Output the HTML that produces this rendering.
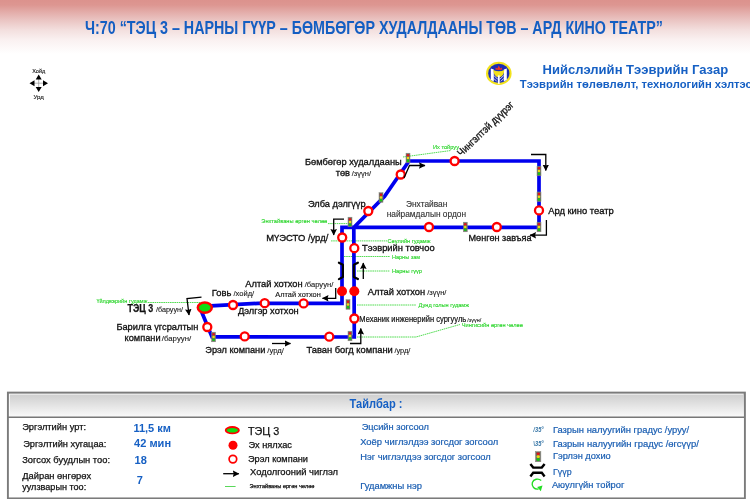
<!DOCTYPE html>
<html><head><meta charset="utf-8">
<style>
html,body{margin:0;padding:0;background:#fff;}
#wrap{position:relative;width:750px;height:499px;overflow:hidden;background:#fff;}
#hdr{position:absolute;left:0;top:0;width:750px;height:56px;background:linear-gradient(to bottom,#dc928d 0px,#dd9691 5px,#e3aca9 12px,#eac4c2 20px,#f3dfde 30px,#faf1f1 40px,#ffffff 54px);}
svg{position:absolute;left:0;top:0;will-change:transform;}
text{font-family:"Liberation Sans",sans-serif;}
</style></head>
<body><div id="wrap"><div id="hdr"></div>
<svg width="750" height="499" viewBox="0 0 750 499">
<defs>
 <g id="sig"><rect x="-2" y="-4.8" width="4" height="9.6" fill="#6a6a6a" stroke="#8a8a7a" stroke-width="0.5"/><circle cx="0" cy="-2.7" r="1.3" fill="#e01818"/><circle cx="0" cy="0" r="1.3" fill="#eedd10"/><circle cx="0" cy="2.7" r="1.3" fill="#10c810"/></g>
 <marker id="ah" markerWidth="8" markerHeight="8" refX="6" refY="3.3" orient="auto" markerUnits="userSpaceOnUse"><path d="M0,0 L6.5,3.3 L0,6.6 L0.9,3.3 z" fill="#000"/></marker>
</defs>

<!-- title -->
<text x="85" y="33.6" font-size="17.6" font-weight="bold" fill="#145ec2" textLength="578" lengthAdjust="spacingAndGlyphs">Ч:70 “ТЭЦ 3 – НАРНЫ ГҮҮР – БӨМБӨГӨР ХУДАЛДААНЫ ТӨВ – АРД КИНО ТЕАТР”</text>

<!-- compass -->
<text x="32.2" y="72.8" font-size="6" fill="#222" stroke="#222" stroke-width="0.15" textLength="13" lengthAdjust="spacingAndGlyphs">Хойд</text>
<text x="33.5" y="99.2" font-size="6" fill="#222" stroke="#222" stroke-width="0.15" textLength="10.4" lengthAdjust="spacingAndGlyphs">Урд</text>
<g stroke="#888" stroke-width="0.6"><line x1="33" y1="83.2" x2="44" y2="83.2"/><line x1="38.7" y1="78" x2="38.7" y2="89"/></g>
<path d="M38.7,74.5 L41.7,79.5 L35.7,79.5 Z M38.7,92 L41.7,87 L35.7,87 Z M29.5,83.2 L34.5,80.2 L34.5,86.2 Z M48,83.2 L43,80.2 L43,86.2 Z" fill="#000"/>

<!-- logo -->
<g transform="translate(498.8,73.4)">
 <ellipse rx="12.8" ry="11.6" fill="#f2e21c"/>
 <ellipse rx="10.6" ry="9.6" fill="#1a2db5"/>
 <path d="M-8,-5 L-5,-4 L-5,8 L-8,6.5 Z M8,-5 L5,-4 L5,8 L8,6.5 Z" fill="#fff"/>
 <path d="M-5.5,-3.5 Q0,-1 5.5,-3.5 Q5,3.5 0,3.8 Q-5,3.5 -5.5,-3.5 Z" fill="#f2e21c"/>
 <path d="M-0.9,2 L0.9,2 L0.9,10.5 L-0.9,10.5 Z" fill="#fff"/>
 <path d="M-5,2 L-1,6 M5,2 L1,6 M-5,5 L-2,8 M5,5 L2,8" stroke="#fff" stroke-width="0.8"/>
 <path d="M-3.5,-3.8 L-3,-6 L-1.5,-5 L0,-8 L1.5,-5 L3,-6 L3.5,-3.8 Q0,-3 -3.5,-3.8 Z" fill="#ee3322"/>
</g>
<text x="542.5" y="73.6" font-size="12.5" font-weight="bold" fill="#1660c4" textLength="185.6" lengthAdjust="spacingAndGlyphs">Нийслэлийн Тээврийн Газар</text>
<text x="519.8" y="87.6" font-size="11.5" font-weight="bold" fill="#1660c4" textLength="232" lengthAdjust="spacingAndGlyphs">Тээврийн төлөвлөлт, технологийн хэлтэс</text>

<!-- green street lines -->
<g stroke="#55dd55" stroke-width="1" stroke-dasharray="1.6,0.6" fill="none">
 <line x1="148" y1="302.5" x2="205" y2="302.5"/>
 <line x1="328" y1="223.6" x2="348" y2="223.6"/>
 <line x1="403" y1="157" x2="451" y2="150.5"/>
 <line x1="331" y1="240.9" x2="387" y2="240.9"/>
 <line x1="344" y1="256.5" x2="390" y2="256.5"/>
 <line x1="357" y1="271" x2="390" y2="271"/>
 <line x1="357" y1="305" x2="416" y2="305"/>
 <polyline points="357,337 416,337 460,324.5"/>
</g>
<g fill="#22d322" font-size="6" stroke="#22d322" stroke-width="0.1">
 <text x="96.4" y="302.9" textLength="51" lengthAdjust="spacingAndGlyphs">Үйлдвэрийн гудамж</text>
 <text x="261.3" y="223.3" textLength="66" lengthAdjust="spacingAndGlyphs">Энхтайваны өргөн чөлөө</text>
 <text x="433" y="149" textLength="26" lengthAdjust="spacingAndGlyphs">Их тойруу</text>
 <text x="387.5" y="242.8" textLength="43" lengthAdjust="spacingAndGlyphs">Сөүлийн гудамж</text>
 <text x="392" y="258.5" textLength="28" lengthAdjust="spacingAndGlyphs">Нарны зам</text>
 <text x="392" y="273" textLength="30" lengthAdjust="spacingAndGlyphs">Нарны гүүр</text>
 <text x="418.6" y="306.5" textLength="50.4" lengthAdjust="spacingAndGlyphs">Дунд голын гудамж</text>
 <text x="461.8" y="327" textLength="61" lengthAdjust="spacingAndGlyphs">Чингисийн өргөн чөлөө</text>
</g>

<!-- route -->
<g stroke="#0000ee" stroke-width="3.7" fill="none" stroke-linejoin="miter">
 <polyline points="206,306.2 258,303.3 342,303.3 342,227.3 539,227.3 539,161 409,161 384.6,196.4 353.8,227.5 354.3,337 212,336.9 201.5,311.5"/>
</g>

<!-- bridges -->
<g stroke="#000" stroke-width="2.2" fill="none" stroke-linejoin="round" stroke-linecap="round">
 <path d="M338.9,262.7 L342.9,264.8 L342.9,277 L338.9,279.1"/>
 <path d="M357.9,262.7 L353.8,264.8 L353.8,277 L357.9,279.1"/>
</g>

<!-- signals -->
<use href="#sig" x="408" y="158"/>
<use href="#sig" x="381" y="197.5"/>
<use href="#sig" x="350" y="222"/>
<use href="#sig" x="465.3" y="227"/>
<use href="#sig" x="539" y="171"/>
<use href="#sig" x="539" y="196.8"/>
<use href="#sig" x="539" y="227"/>
<use href="#sig" x="348" y="304.5"/>
<use href="#sig" x="350" y="336"/>
<use href="#sig" x="213.6" y="337"/>

<!-- stops -->
<g fill="#fff" stroke="#ff0000" stroke-width="2.3">
 <circle cx="454.6" cy="161" r="4"/>
 <circle cx="400.7" cy="174.5" r="4"/>
 <circle cx="368.3" cy="211" r="4"/>
 <circle cx="429" cy="227" r="4"/>
 <circle cx="496.8" cy="227" r="4"/>
 <circle cx="539" cy="210.4" r="4"/>
 <circle cx="342.2" cy="237.5" r="4"/>
 <circle cx="354.3" cy="248.2" r="4"/>
 <circle cx="354.3" cy="318.5" r="4"/>
 <circle cx="233" cy="305" r="4"/>
 <circle cx="264.7" cy="303.2" r="4"/>
 <circle cx="303.6" cy="303.4" r="4"/>
 <circle cx="207.3" cy="327" r="4"/>
 <circle cx="244.7" cy="336.4" r="4"/>
 <circle cx="329.3" cy="336.7" r="4"/>
</g>
<g fill="#ff0000"><circle cx="342" cy="291.3" r="5"/><circle cx="354.3" cy="291.3" r="5"/></g>
<ellipse cx="204.8" cy="307.6" rx="7" ry="5.1" fill="#10dd10" stroke="#ff0000" stroke-width="2.5"/>

<!-- direction arrows -->
<g stroke="#000" stroke-width="1.3" fill="none" marker-end="url(#ah)">
 <polyline points="531,154.5 545.8,154.5 545.8,170.5"/>
 <polyline points="546.4,220 546.4,235.2 530,235.2"/>
 <polyline points="404,178 409.5,165.5 425,165.5"/>
 <polyline points="344,219.2 333.7,219.2 333.7,235"/>
 <line x1="363.3" y1="279" x2="363.3" y2="263"/>
 <polyline points="335.7,288 335.7,298.3 322.5,298.3"/>
 <polyline points="350,343.5 360.8,343.5 360.8,328.5"/>
 <line x1="272" y1="343.5" x2="290.5" y2="343.5"/>
 <polyline points="201.5,297.2 187,298.6 189,315"/>
</g>

<!-- labels -->
<g fill="#111" font-size="9.6" stroke="#111" stroke-width="0.32">
 <text x="304.9" y="165" textLength="96.8" lengthAdjust="spacingAndGlyphs">Бөмбөгөр худалдааны</text>
 <text x="335.7" y="176.2" textLength="14.3" lengthAdjust="spacingAndGlyphs" font-size="9">төв</text>
 <text x="351.7" y="176.3" textLength="19.3" lengthAdjust="spacingAndGlyphs" font-size="7.5" fill="#222" stroke="#222" stroke-width="0.12">/зүүн/</text>
 <text x="308" y="207.2" textLength="57.6" lengthAdjust="spacingAndGlyphs">Элба дэлгүүр</text>
 <text x="406" y="207" textLength="41.3" lengthAdjust="spacingAndGlyphs" font-size="9.2" fill="#333" stroke="#333" stroke-width="0.15">Энхтайван</text>
 <text x="386.7" y="217" textLength="79.3" lengthAdjust="spacingAndGlyphs" font-size="9.2" fill="#333" stroke="#333" stroke-width="0.15">найрамдалын ордон</text>
 <text x="548.2" y="213.5" textLength="65.6" lengthAdjust="spacingAndGlyphs">Ард кино театр</text>
 <text x="468.5" y="240.5" textLength="63" lengthAdjust="spacingAndGlyphs">Мөнгөн завъяа</text>
 <text x="266.2" y="240.7" textLength="62.1" lengthAdjust="spacingAndGlyphs">МҮЭСТО /урд/</text>
 <text x="362" y="250.9" textLength="72.6" lengthAdjust="spacingAndGlyphs">Тээврийн товчоо</text>
 <text x="245.3" y="286.7" textLength="57.4" lengthAdjust="spacingAndGlyphs">Алтай хотхон</text>
 <text x="304.7" y="286.7" textLength="28.6" lengthAdjust="spacingAndGlyphs" font-size="7.5" fill="#222" stroke="#222" stroke-width="0.12">/баруун/</text>
 <text x="275.3" y="296.7" textLength="45.4" lengthAdjust="spacingAndGlyphs" font-size="8" stroke-width="0.15">Алтай хотхон</text>
 <text x="211.8" y="295.8" textLength="19.6" lengthAdjust="spacingAndGlyphs" font-size="9.5">Говь</text>
 <text x="233.4" y="295.8" textLength="20.8" lengthAdjust="spacingAndGlyphs" font-size="7.5" fill="#222" stroke="#222" stroke-width="0.12">/хойд/</text>
 <text x="238" y="313.6" textLength="60.7" lengthAdjust="spacingAndGlyphs">Дэлгэр хотхон</text>
 <text x="367.8" y="294.8" textLength="57.4" lengthAdjust="spacingAndGlyphs">Алтай хотхон</text>
 <text x="427.2" y="294.8" textLength="19.2" lengthAdjust="spacingAndGlyphs" font-size="7.5" fill="#222" stroke="#222" stroke-width="0.12">/зүүн/</text>
 <text x="359.3" y="321.5" textLength="107" lengthAdjust="spacingAndGlyphs" font-size="8.8" stroke-width="0.2">Механик инженерийн сургууль</text>
 <text x="467.2" y="321.5" textLength="14" lengthAdjust="spacingAndGlyphs" font-size="6" fill="#222" stroke="#222" stroke-width="0.1">/зүүн/</text>
 <text x="127.6" y="311.7" textLength="25.6" lengthAdjust="spacingAndGlyphs" font-weight="bold" font-size="10" stroke-width="0.25">ТЭЦ 3</text>
 <text x="156" y="312" textLength="27" lengthAdjust="spacingAndGlyphs" font-size="7.5" fill="#222" stroke="#222" stroke-width="0.12">/баруун/</text>
 <text x="116.4" y="330" textLength="82" lengthAdjust="spacingAndGlyphs">Барилга үгсралтын</text>
 <text x="124.6" y="340.8" textLength="36" lengthAdjust="spacingAndGlyphs">компани</text>
 <text x="161.8" y="340.8" textLength="29.4" lengthAdjust="spacingAndGlyphs" font-size="7.5" fill="#222" stroke="#222" stroke-width="0.12">/баруун/</text>
 <text x="205.3" y="352.7" textLength="60" lengthAdjust="spacingAndGlyphs">Эрэл компани</text>
 <text x="267.3" y="352.7" textLength="16.7" lengthAdjust="spacingAndGlyphs" font-size="7.5" fill="#222" stroke="#222" stroke-width="0.12">/урд/</text>
 <text x="306.4" y="352.8" textLength="86.4" lengthAdjust="spacingAndGlyphs">Таван богд компани</text>
 <text x="394.4" y="352.8" textLength="16" lengthAdjust="spacingAndGlyphs" font-size="7.5" fill="#222" stroke="#222" stroke-width="0.12">/урд/</text>
 <text transform="translate(461.3,157) rotate(-44)" font-size="10.5" textLength="74" lengthAdjust="spacingAndGlyphs">Чингэлтэй дүүрэг</text>
</g>

<!-- legend box -->
<defs><linearGradient id="lg" x1="0" y1="0" x2="0" y2="1"><stop offset="0" stop-color="#cbcbcb"/><stop offset="1" stop-color="#fbfbfb"/></linearGradient></defs>
<rect x="8" y="392.5" width="736" height="25" fill="url(#lg)"/>
<polyline points="9.3,416.8 9.3,394 743,394" fill="none" stroke="#fff" stroke-width="1"/>
<rect x="7.9" y="392.6" width="737" height="105.8" fill="none" stroke="#7b7b7b" stroke-width="1.9"/>
<line x1="8" y1="417.3" x2="744" y2="417.3" stroke="#777" stroke-width="1.4"/>
<text x="349.6" y="408.3" font-size="12" font-weight="bold" fill="#1660c4" textLength="52.8" lengthAdjust="spacingAndGlyphs">Тайлбар :</text>

<g fill="#111" font-size="9" stroke="#111" stroke-width="0.25">
 <text x="22.2" y="429.5" textLength="63.8" lengthAdjust="spacingAndGlyphs">Эргэлтийн урт:</text>
 <text x="23.2" y="446.5" textLength="83.1" lengthAdjust="spacingAndGlyphs">Эргэлтийн хугацаа:</text>
 <text x="22.2" y="463" textLength="87.8" lengthAdjust="spacingAndGlyphs">Зогсох буудлын тоо:</text>
 <text x="22.2" y="478.5" textLength="69" lengthAdjust="spacingAndGlyphs">Дайран өнгөрөх</text>
 <text x="22.2" y="489.5" textLength="64" lengthAdjust="spacingAndGlyphs">уулзварын тоо:</text>
</g>
<g fill="#1660c4" font-size="11" font-weight="bold">
 <text x="133.4" y="431.5" textLength="37.5" lengthAdjust="spacingAndGlyphs">11,5 км</text>
 <text x="134.1" y="446.5" textLength="37" lengthAdjust="spacingAndGlyphs">42 мин</text>
 <text x="134.6" y="463.5">18</text>
 <text x="136.7" y="483.5">7</text>
</g>
<ellipse cx="232.3" cy="430.2" rx="6.6" ry="3.2" fill="#10dd10" stroke="#ff0000" stroke-width="1.8"/>
<circle cx="233" cy="445.2" r="4.5" fill="#ff0000"/>
<circle cx="232.9" cy="459.1" r="3.8" fill="#fff" stroke="#ff0000" stroke-width="1.7"/>
<line x1="223.2" y1="473.7" x2="238.8" y2="473.7" stroke="#000" stroke-width="1.3" marker-end="url(#ah)"/>
<line x1="225" y1="486.5" x2="235.6" y2="486.5" stroke="#5ad85a" stroke-width="1"/>
<g fill="#111" font-size="9" stroke="#111" stroke-width="0.25">
 <text x="248" y="434.5" font-size="11.5" textLength="31.3" lengthAdjust="spacingAndGlyphs">ТЭЦ 3</text>
 <text x="248.4" y="447.8" textLength="43.6" lengthAdjust="spacingAndGlyphs">Эх нялхас</text>
 <text x="248" y="461.6" textLength="60" lengthAdjust="spacingAndGlyphs">Эрэл компани</text>
 <text x="250" y="474.5" textLength="88" lengthAdjust="spacingAndGlyphs">Ходолгооний чиглэл</text>
 <text x="249.5" y="488" font-size="5.5" textLength="65" lengthAdjust="spacingAndGlyphs">Энхтайваны өргөн чөлөө</text>
</g>
<g fill="#1a5eb2" font-size="9" stroke="#1a5eb2" stroke-width="0.2">
 <text x="361.7" y="430" textLength="67.3" lengthAdjust="spacingAndGlyphs">Эцсийн зогсоол</text>
 <text x="360.2" y="445" textLength="138" lengthAdjust="spacingAndGlyphs">Хоёр чиглэлдээ зогсдог зогсоол</text>
 <text x="360.2" y="459.5" textLength="130.6" lengthAdjust="spacingAndGlyphs">Нэг чиглэлдээ зогсдог зогсоол</text>
 <text x="360.2" y="488.5" textLength="61.8" lengthAdjust="spacingAndGlyphs">Гудамжны нэр</text>
 <text x="552.9" y="433" textLength="136.3" lengthAdjust="spacingAndGlyphs">Газрын налуугийн градус /уруу/</text>
 <text x="553" y="446.5" textLength="145.8" lengthAdjust="spacingAndGlyphs">Газрын налуугийн градус /өгсүүр/</text>
 <text x="553" y="459" textLength="57.7" lengthAdjust="spacingAndGlyphs">Гэрлэн дохио</text>
 <text x="553" y="474.5" textLength="18.6" lengthAdjust="spacingAndGlyphs">Гүүр</text>
 <text x="551.9" y="487.5" textLength="72.5" lengthAdjust="spacingAndGlyphs">Аюулгүйн тойрог</text>
 <text x="533.3" y="432.3" font-size="7" font-style="italic" font-weight="bold" fill="#3a78a8" stroke="none" textLength="10.4" lengthAdjust="spacingAndGlyphs">/35°</text>
 <text x="533.3" y="445.8" font-size="7" font-style="italic" font-weight="bold" fill="#3a78a8" stroke="none" textLength="10.4" lengthAdjust="spacingAndGlyphs">\35°</text>
</g>
<g transform="translate(538.2,456.7) scale(1.3,1.05)"><use href="#sig"/></g>
<g stroke="#000" stroke-width="2.4" fill="none" stroke-linejoin="miter">
 <path d="M530.4,464 L533.2,467.6 L541.8,467.6 L544.6,464 M530.4,476.4 L533.2,472.8 L541.8,472.8 L544.6,476.4"/>
</g>
<g fill="none" stroke="#22dd22" stroke-width="1.4"><path d="M541.2,480.6 A5.3,5 0 1 0 538.5,489"/></g>
<path d="M537.2,487 L542.5,485.5 L540.8,491.3 Z" fill="#22dd22"/>
</svg>
</div></body></html>
